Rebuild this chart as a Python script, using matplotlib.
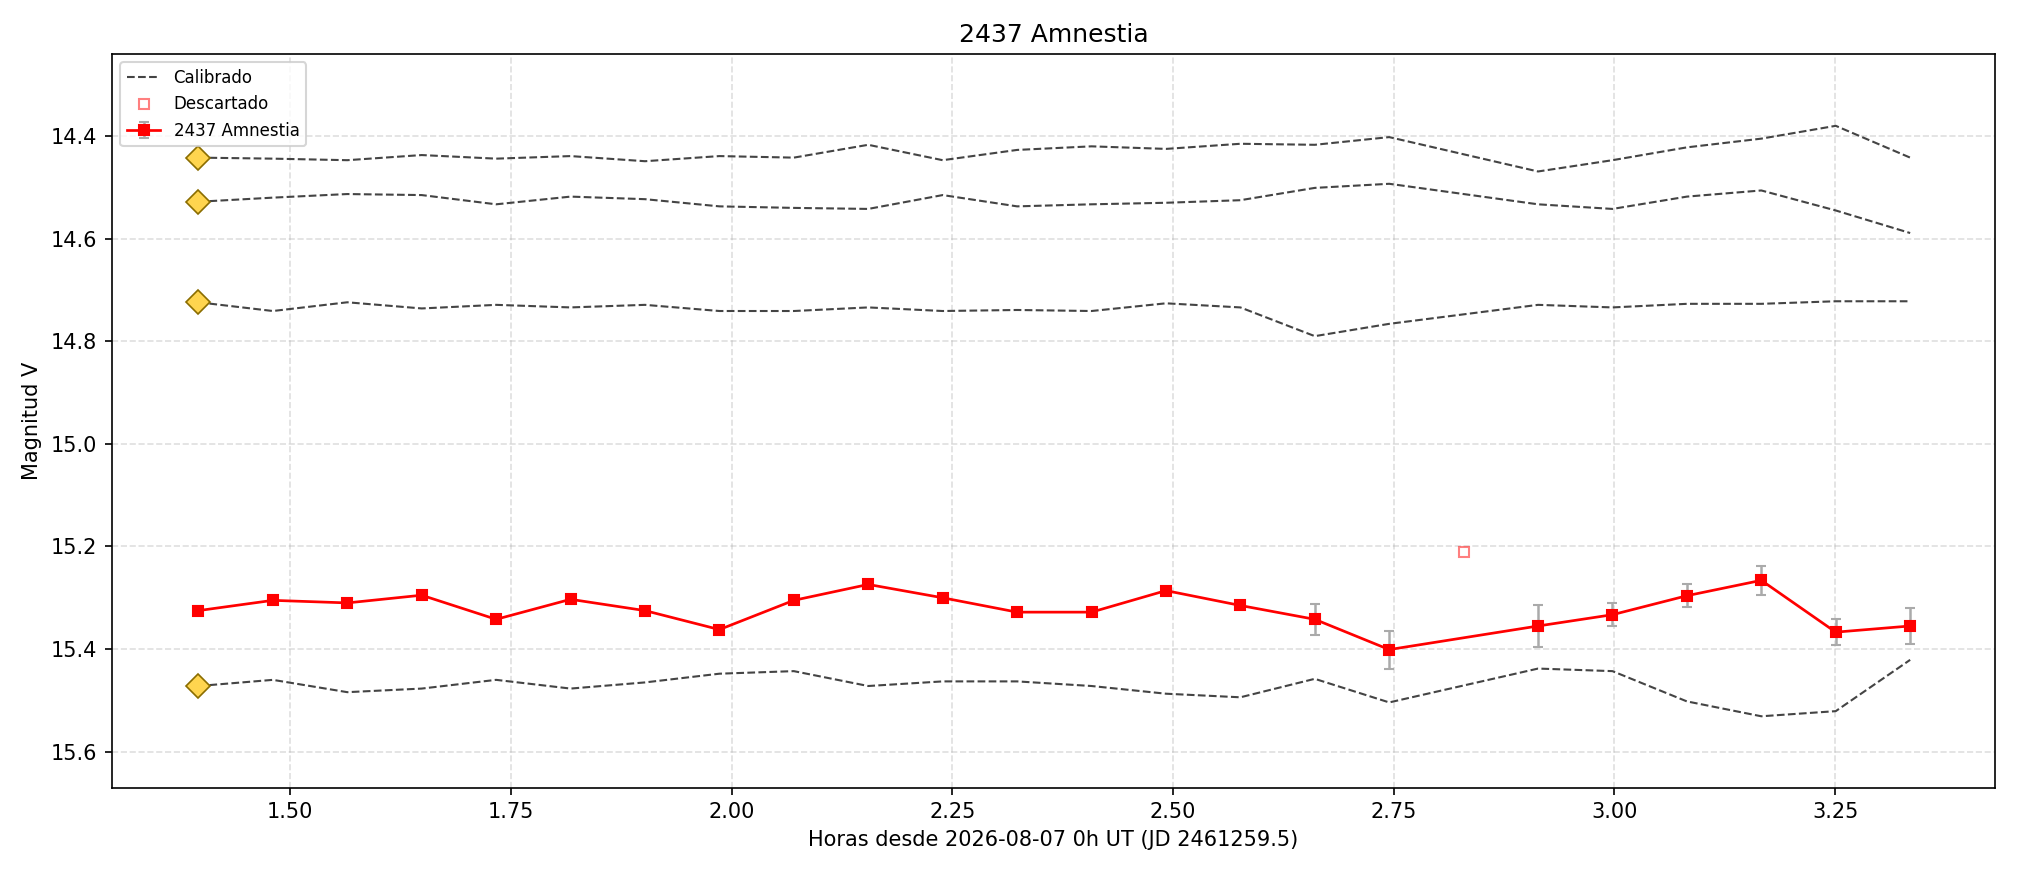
import numpy as np
import matplotlib
matplotlib.use("Agg")
import matplotlib.pyplot as plt

# Target light curve (hours since 0h UT)
t0 = 1.396
dt = 0.0843
target_x = [t0 + i * dt for i in range(24)]
target_y = [15.325, 15.305, 15.310, 15.295, 15.342, 15.303, 15.325, 15.362,
            15.305, 15.274, 15.300, 15.328, 15.328, 15.286, 15.315, 15.342,
            15.401, 15.210, 15.355, 15.333, 15.296, 15.266, 15.367, 15.355]
target_err = [0.008, 0.006, 0.006, 0.006, 0.007, 0.006, 0.007, 0.006,
              0.006, 0.005, 0.005, 0.006, 0.006, 0.007, 0.007, 0.030,
              0.037, 0.0, 0.040, 0.022, 0.022, 0.028, 0.025, 0.036]
discarded = [17]

# Comparison stars (calibrated), same epochs minus the discarded one
comp_x = [x for i, x in enumerate(target_x) if i not in discarded]
comp1 = [14.442, 14.444, 14.447, 14.437, 14.444, 14.439, 14.449, 14.439, 14.442,
         14.417, 14.447, 14.427, 14.420, 14.425, 14.415, 14.417, 14.402, 14.469,
         14.447, 14.422, 14.405, 14.380, 14.442]
comp2 = [14.528, 14.520, 14.513, 14.515, 14.533, 14.518, 14.523, 14.537, 14.540,
         14.542, 14.515, 14.537, 14.533, 14.530, 14.525, 14.501, 14.493, 14.533,
         14.542, 14.518, 14.506, 14.545, 14.589]
comp3 = [14.724, 14.741, 14.724, 14.736, 14.729, 14.734, 14.729, 14.741, 14.741,
         14.734, 14.741, 14.739, 14.741, 14.726, 14.734, 14.790, 14.766, 14.729,
         14.734, 14.727, 14.727, 14.722, 14.722]
comp4 = [15.472, 15.460, 15.484, 15.477, 15.460, 15.477, 15.465, 15.448, 15.443,
         15.472, 15.463, 15.463, 15.472, 15.487, 15.494, 15.458, 15.504, 15.438,
         15.443, 15.502, 15.531, 15.521, 15.421]

fig, ax = plt.subplots(figsize=(13.45, 5.82), dpi=150)

for k, c in enumerate([comp1, comp2, comp3, comp4]):
    ax.plot(comp_x, c, "--", color="#444444", lw=1.0,
            label="Calibrado" if k == 0 else "_nolegend_")
    ax.plot(comp_x[0], c[0], "D", ms=8, mfc="#ffd54f", mec="#8a6d00", mew=0.8, zorder=5)

keep = [i for i in range(len(target_x)) if i not in discarded]
ax.plot([target_x[i] for i in discarded], [target_y[i] for i in discarded], "s",
        ms=4.5, mfc="none", mec="red", alpha=0.5, ls="none", label="Descartado")
ax.errorbar([target_x[i] for i in keep], [target_y[i] for i in keep],
            yerr=[target_err[i] for i in keep], fmt="-s", color="red", ms=5,
            lw=1.3, ecolor="#aaaaaa", elinewidth=1.2, capsize=2.5,
            label="2437 Amnestia", zorder=4)

ax.set_xlim(1.298, 3.431)
ax.set_ylim(15.67, 14.24)
ax.set_xticks([1.5, 1.75, 2.0, 2.25, 2.5, 2.75, 3.0, 3.25])
ax.set_yticks([14.4, 14.6, 14.8, 15.0, 15.2, 15.4, 15.6])
ax.grid(True, ls="--", alpha=0.4)
ax.set_xlabel("Horas desde 2026-08-07 0h UT (JD 2461259.5)")
ax.set_ylabel("Magnitud V")
ax.set_title("2437 Amnestia", fontsize=12)
ax.legend(loc="upper left", fontsize=8)

fig.tight_layout()
fig.savefig("out.png", dpi=150)
